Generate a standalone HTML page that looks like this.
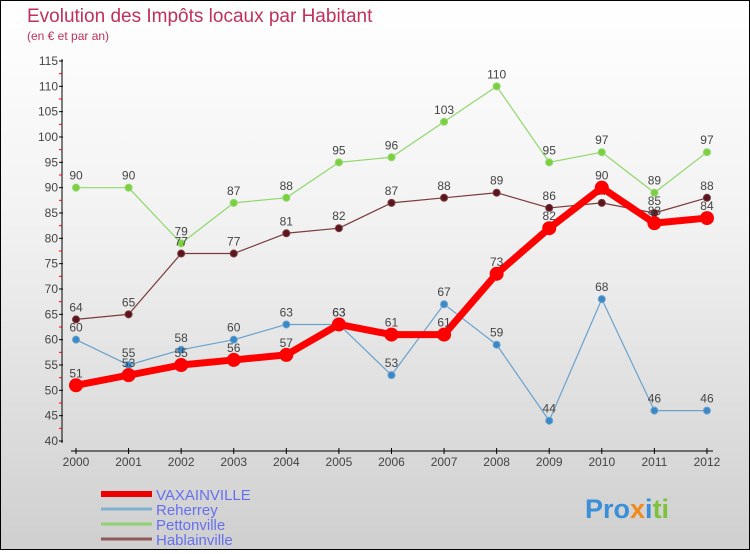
<!DOCTYPE html>
<html><head><meta charset="utf-8"><style>
body{margin:0;width:750px;height:550px;overflow:hidden}
#c{position:relative;width:748px;height:548px;border:1px solid #000;background:linear-gradient(#ffffff,#f2f2f2 40%,#cfcfcf);font-family:"Liberation Sans",sans-serif}
</style></head><body>
<div id="c">
<svg id="s" width="748" height="548" xmlns="http://www.w3.org/2000/svg">
<text x="26" y="21" font-size="19" fill="#c0305a">Evolution des Impôts locaux par Habitant</text>
<text x="26" y="39" font-size="12" fill="#c0305a">(en € et par an)</text>
<g id="axes"></g><g id="series"></g><g id="legend"></g>
<text x="584" y="517" font-size="27" font-weight="bold" fill="#3a8fd8">Pro<tspan fill="#f08a1c">x</tspan><tspan fill="#3a8fd8">i</tspan><tspan fill="#7cc23a">ti</tspan></text>
</svg></div>
<script>
const years=[2000,2001,2002,2003,2004,2005,2006,2007,2008,2009,2010,2011,2012];
const yTicks=[40,45,50,55,60,65,70,75,80,85,90,95,100,105,110,115];
const vaxainville=[51,53,55,56,57,63,61,61,73,82,90,83,84];
const reherrey=[60,55,58,60,63,63,53,67,59,44,68,46,46];
const pettonville=[90,90,79,87,88,95,96,103,110,95,97,89,97];
const hablainville=[64,65,77,77,81,82,87,88,89,86,87,85,88];
const NS="http://www.w3.org/2000/svg";
const X=i=>75+i*52.58, Y=v=>440-(v-40)*380/75;
function mk(t,a,p){const e=document.createElementNS(NS,t);for(const k in a)e.setAttribute(k,a[k]);p.appendChild(e);return e;}
const ax=document.getElementById('axes');
const yl=mk('line',{x1:61,y1:58,x2:61,y2:442,stroke:'#000'},ax);


yTicks.forEach((v,k)=>{mk('line',{x1:58,x2:62,y1:Y(v),y2:Y(v),stroke:'#000'},ax);
if(k<yTicks.length-1)mk('line',{x1:58,x2:61,y1:Y(v+2.5),y2:Y(v+2.5),stroke:'#f00'},ax);
const t=mk('text',{x:57,y:Y(v)+4,'text-anchor':'end','font-size':12,fill:'#444'},ax);t.textContent=v;

});
const xl=mk('line',{x1:70,y1:450,x2:712,y2:450,stroke:'#000'},ax);


years.forEach((y,i)=>{mk('line',{x1:X(i),x2:X(i),y1:447,y2:453,stroke:'#000'},ax);
const t=mk('text',{x:X(i),y:465,'text-anchor':'middle','font-size':12,fill:'#444'},ax);t.textContent=y;

});
const sg=document.getElementById('series');
function draw(d,col,dot,w,r,name){const g=mk('g',{},sg);


mk('polyline',{points:d.map((v,i)=>X(i)+','+Y(v)).join(' '),fill:'none',stroke:col,'stroke-width':w,'stroke-linejoin':'round'},g);
d.forEach((v,i)=>{const c=mk('circle',{cx:X(i),cy:Y(v),r:r,fill:dot,stroke:col,'stroke-width':1},g);


const t=mk('text',{x:X(i),y:Y(v)-8,'text-anchor':'middle','font-size':12,fill:'#444'},g);t.textContent=v;

});}
draw(pettonville,'#8fd86a','#7cd040',1.2,3.5,'pettonville');
draw(hablainville,'#7a3a3a','#5a1520',1.2,3.5,'hablainville');
draw(reherrey,'#6aa2cc','#3a88c8',1.2,3.5,'reherrey');
draw(vaxainville,'#f00','#f00',7,6.5,'vaxainville');
const lg=document.getElementById('legend');
[['VAXAINVILLE','#ee0000',6],['Reherrey','#80b0d0',3],['Pettonville','#90d070',3],['Hablainville','#905858',3]].forEach((e,i)=>{const y=493+i*15;
const l=mk('line',{x1:100,x2:151,y1:y,y2:y,stroke:e[1],'stroke-width':e[2]},lg);


const t=mk('text',{x:155,y:y+6,'font-size':15,fill:'#6670ee'},lg);t.textContent=e[0];

});
</script>
</body></html>
